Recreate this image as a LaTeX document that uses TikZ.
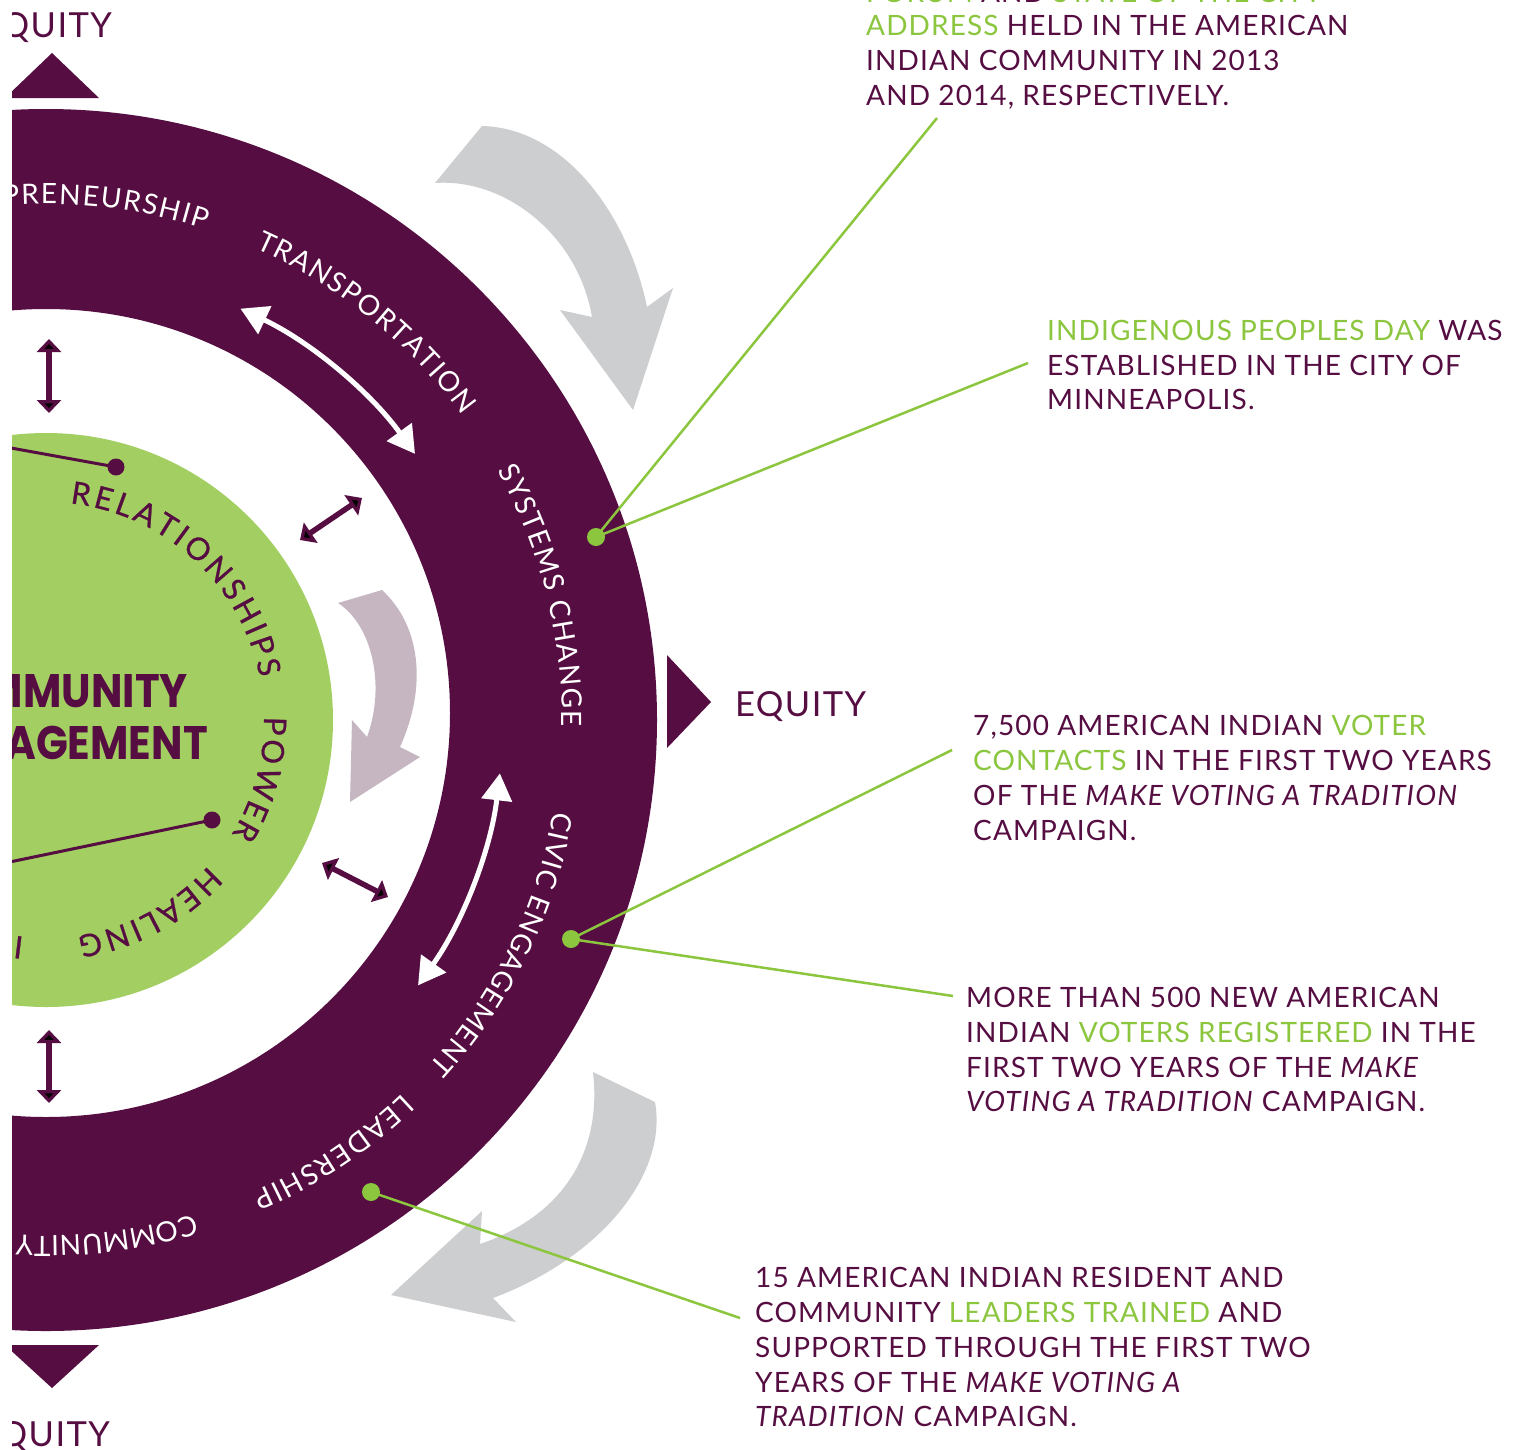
\documentclass[tikz,border=0pt]{standalone}
\usepackage{fontspec}
\setmainfont{Lato}
\newfontfamily\bodyfnt{Lato}[LetterSpace=4]
\newfontfamily\ringfnt{Lato}
\newfontfamily\discfnt{Lato}[FakeBold=0.8]
\newfontfamily\popfnt{Poppins}
\usetikzlibrary{decorations.text,arrows.meta}
\definecolor{plum}{HTML}{560D42}
\definecolor{lime}{HTML}{8CC63F}
\definecolor{disc}{HTML}{A3CF62}
\definecolor{greyarr}{HTML}{CDCED0}
\definecolor{mauve}{HTML}{C6B6C1}
\newcommand\ringtype{\ringfnt\fontsize{28}{32}\selectfont}
\newcommand\disctype{\discfnt\fontsize{31}{35}\selectfont}
\tikzset{
  body/.style={anchor=base west, inner sep=0pt, text=plum, font=\bodyfnt\fontsize{28}{34}\selectfont},
  equity/.style={inner sep=0pt, text=plum, font=\bodyfnt\fontsize{34.5}{40}\selectfont},
  centre/.style={anchor=base east, inner sep=0pt, text=plum, font=\popfnt\bfseries\fontsize{47}{52}\selectfont},
  leader/.style={draw=lime, line width=2.5pt},
  smallarr/.style={draw=plum, line width=5.5pt, {Triangle[width=24pt,length=13pt]}-{Triangle[width=24pt,length=13pt]}},
  bigarr/.style={draw=white, line width=5pt, {Triangle[width=30pt,length=27pt]}-{Triangle[width=30pt,length=27pt]}},
  spoke/.style={draw=plum, line width=3pt},
  ringlabel/.style={decorate, decoration={text along path, text align={fit to path}, text color=white, text={|\ringtype|#1}}},
  disclabel/.style={decorate, decoration={text along path, text align={fit to path}, text color=plum, text={|\disctype|#1}}},
}
\begin{document}
\begin{tikzpicture}[x=1pt,y=-1pt]
\useasboundingbox (0,0) rectangle (1522,1449);
\fill[white] (0,0) rectangle (1522,1449);
\coordinate (C) at (46,720);
\coordinate (Ci) at (46,713);
\begin{scope}
\clip (12,0) rectangle (1522,1449);
% outer ring
\fill[plum, even odd rule] (C) circle[radius=611] (Ci) circle[radius=404];
% green disc
\fill[disc] (C) circle[radius=287];
% grey arrows
\fill[greyarr] (435,183) .. controls (505,178) and (578,235) .. (592,317) -- (560,310) -- (633,410) -- (673,288) -- (647,307) .. controls (628,215) and (565,128) .. (482,126) -- cycle;
\fill[greyarr] (593,1072) .. controls (602,1150) and (565,1215) .. (480,1244) -- (482,1211) -- (391,1295) -- (516,1322) -- (493,1298) .. controls (600,1258) and (668,1175) .. (655,1102) -- cycle;
% mauve arrow
\fill[mauve] (338,603) .. controls (372,625) and (386,685) .. (367,737) -- (352,720) -- (350,802) -- (420,757) -- (400,747) .. controls (428,685) and (420,625) .. (382,590) -- cycle;
% triangles
\fill[plum] (52,53) -- (99,98) -- (5,98) -- cycle;
\fill[plum] (52,1388) -- (99,1345) -- (5,1345) -- cycle;
\fill[plum] (667,655) -- (711,702) -- (667,748) -- cycle;
% EQUITY labels
\node[equity, anchor=base east] (eqtop) at (112,37) {EQUITY};
\node[equity, anchor=base east] (eqbot) at (110,1446) {EQUITY};
\node[equity, anchor=base west] (eqright) at (735,716) {EQUITY};
% ring labels
\path[ringlabel={ENTREPRENEURSHIP}] ([shift={(-105.5:516)}]C) arc[start angle=-105.5, end angle=-72, radius=516];
\path[ringlabel={TRANSPORTATION}] ([shift={(-66.1:516)}]C) arc[start angle=-66.1, end angle=-36.2, radius=516];
\path[ringlabel={SYSTEMS CHANGE}] ([shift={(-28.9:516)}]C) arc[start angle=-28.9, end angle=0.7, radius=516];
\path[ringlabel={CIVIC ENGAGEMENT}] ([shift={(10.2:516)}]C) arc[start angle=10.2, end angle=42.1, radius=516];
\path[ringlabel={LEADERSHIP}] ([shift={(46.3:516)}]C) arc[start angle=46.3, end angle=66.4, radius=516];
\path[ringlabel={COMMUNITY}] ([shift={(73.3:516)}]C) arc[start angle=73.3, end angle=93.3, radius=516];
% disc labels
\path[disclabel={RELATIONSHIPS}] ([shift={(-83.7:218)}]C) arc[start angle=-83.7, end angle=-11.2, radius=218];
\path[disclabel={POWER}] ([shift={(-0.9:218)}]C) arc[start angle=-0.9, end angle=31.6, radius=218];
\path[disclabel={HEALING}] ([shift={(41.9:218)}]C) arc[start angle=41.9, end angle=81.7, radius=218];
\node[inner sep=0pt, text=plum, font=\disctype, rotate=173.1] (discI) at ([shift={(96.9:229)}]C) {I};
% centre text
\node[centre] (c1) at (188,707) {\scalebox{0.89}[1]{COMMUNITY}};
\node[centre] (c2) at (208,759) {\scalebox{0.89}[1]{ENGAGEMENT}};
% spokes in disc
\coordinate (s1a) at (0,446);
\coordinate (s1b) at (116,467);
\coordinate (s2a) at (0,864);
\coordinate (s2b) at (212,820);
\draw[spoke] (s1a) -- (s1b);
\draw[spoke] (s2a) -- (s2b);
\fill[plum] (s1b) circle[radius=8.5];
\fill[plum] (s2b) circle[radius=8.5];
% small purple double arrows
\coordinate (p1a) at (49,339); \coordinate (p1b) at (49,413);
\coordinate (p2a) at (300,540); \coordinate (p2b) at (362,498);
\coordinate (p3a) at (322,863); \coordinate (p3b) at (388,897);
\coordinate (p4a) at (49,1030); \coordinate (p4b) at (49,1103);
\draw[smallarr] (p1a) -- (p1b);
\draw[smallarr] (p2a) -- (p2b);
\draw[smallarr] (p3a) -- (p3b);
\draw[smallarr] (p4a) -- (p4b);
% white curved double arrows
\draw[bigarr] ([shift={(-64.7:455)}]C) arc[start angle=-64.7, end angle=-35.8, radius=455];
\draw[bigarr] ([shift={(6.7:457)}]C) arc[start angle=6.7, end angle=35.5, radius=457];
% leader lines
\coordinate (d1) at (596,537);
\coordinate (d2) at (571,939);
\coordinate (d3) at (371,1192);
\coordinate (e1) at (937,118);
\coordinate (e2) at (1028,363);
\coordinate (e3) at (952,750);
\coordinate (e4) at (953,996);
\coordinate (e5) at (740,1318);
\draw[leader] (d1) -- (e1);
\draw[leader] (d1) -- (e2);
\draw[leader] (d2) -- (e3);
\draw[leader] (d2) -- (e4);
\draw[leader] (d3) -- (e5);
\fill[lime] (d1) circle[radius=9];
\fill[lime] (d2) circle[radius=9];
\fill[lime] (d3) circle[radius=9];
% callout texts
\node[body] (a0) at (866,2) {\textcolor{lime}{FORUM} AND \textcolor{lime}{STATE OF THE CITY}};
\node[body] (a1) at (866,35) {\textcolor{lime}{ADDRESS} HELD IN THE AMERICAN};
\node[body] (a2) at (866,70) {INDIAN COMMUNITY IN 2013};
\node[body] (a3) at (866,105) {AND 2014, RESPECTIVELY.};
\node[body] (b1) at (1047,340) {\textcolor{lime}{INDIGENOUS PEOPLES DAY} WAS};
\node[body] (b2) at (1047,375) {ESTABLISHED IN THE CITY OF};
\node[body] (b3) at (1047,409) {MINNEAPOLIS.};
\node[body] (v1) at (973,735) {7,500 AMERICAN INDIAN \textcolor{lime}{VOTER}};
\node[body] (v2) at (973,770) {\textcolor{lime}{CONTACTS} IN THE FIRST TWO YEARS};
\node[body] (v3) at (973,805) {OF THE \textit{MAKE VOTING A TRADITION}};
\node[body] (v4) at (973,840) {CAMPAIGN.};
\node[body] (r1) at (966,1007) {MORE THAN 500 NEW AMERICAN};
\node[body] (r2) at (966,1042) {INDIAN \textcolor{lime}{VOTERS REGISTERED} IN THE};
\node[body] (r3) at (966,1077) {FIRST TWO YEARS OF THE \textit{MAKE}};
\node[body] (r4) at (966,1111) {\textit{VOTING A TRADITION} CAMPAIGN.};
\node[body] (l1) at (755,1287) {15 AMERICAN INDIAN RESIDENT AND};
\node[body] (l2) at (755,1322) {COMMUNITY \textcolor{lime}{LEADERS TRAINED} AND};
\node[body] (l3) at (755,1357) {SUPPORTED THROUGH THE FIRST TWO};
\node[body] (l4) at (755,1392) {YEARS OF THE \textit{MAKE VOTING A}};
\node[body] (l5) at (755,1426) {\textit{TRADITION} CAMPAIGN.};
\end{scope}
\end{tikzpicture}
\end{document}
